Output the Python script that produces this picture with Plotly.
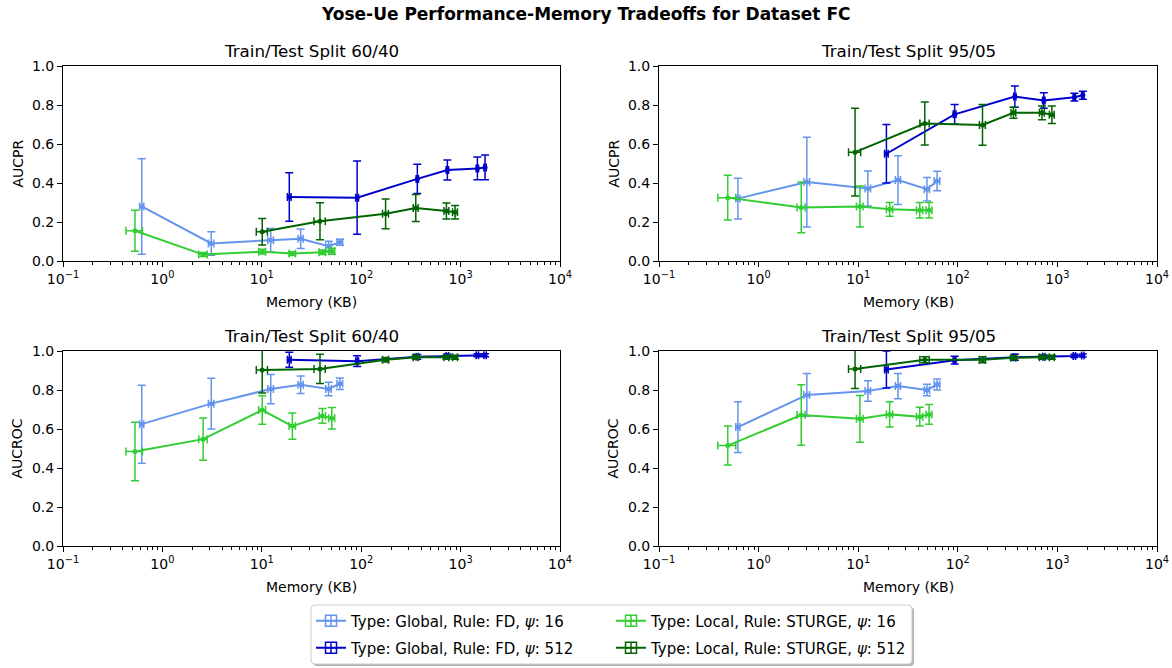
import plotly.graph_objects as go

# ---- series definitions -------------------------------------------------
SERIES = ["g16", "g512", "l16", "l512"]
LABELS = {
    "g16": "Type: Global, Rule: FD, <i>ψ</i>: 16",
    "g512": "Type: Global, Rule: FD, <i>ψ</i>: 512",
    "l16": "Type: Local, Rule: STURGE, <i>ψ</i>: 16",
    "l512": "Type: Local, Rule: STURGE, <i>ψ</i>: 512",
}
COLORS = {"g16": "#6495ED", "g512": "#0000CD", "l16": "#32CD32", "l512": "#006400"}

# ---- memory footprint (KB), mean and spread, per split ------------------
mem_6040 = {
    "g16": [0.62, 3.1, 12.3, 24.6, 47, 61],
    "g512": [18.9, 91, 367, 736, 1475, 1762],
    "l16": [0.53, 2.57, 10.1, 20.3, 40.7, 50.6],
    "l512": [10.1, 38.5, 176, 354, 720, 880],
}
mem_err_6040 = {
    "g16": [0.03, 0.2, 0.8, 1.5, 3, 4],
    "g512": [0.8, 3, 10, 20, 40, 50],
    "l16": [0.1, 0.25, 0.8, 1.5, 3, 3.5],
    "l512": [1.3, 5, 12, 20, 40, 50],
}
mem_9505 = {
    "g16": [0.62, 3.05, 12.5, 25.1, 49, 62],
    "g512": [19.2, 93, 374, 730, 1480, 1800],
    "l16": [0.49, 2.68, 10.4, 20.7, 41.5, 51.5],
    "l512": [9.3, 46.6, 177, 362, 700, 880],
}
mem_err_9505 = {
    "g16": [0.03, 0.2, 0.8, 1.5, 3, 4],
    "g512": [0.8, 3, 10, 20, 40, 50],
    "l16": [0.1, 0.25, 0.8, 1.5, 3, 3.5],
    "l512": [1.3, 5, 12, 20, 40, 50],
}

# ---- AUCPR, split 60/40 -------------------------------------------------
aucpr_6040 = {
    "g16": [0.28, 0.09, 0.107, 0.114, 0.076, 0.096],
    "g512": [0.328, 0.325, 0.421, 0.467, 0.475, 0.48],
    "l16": [0.155, 0.033, 0.048, 0.038, 0.045, 0.05],
    "l512": [0.150, 0.204, 0.242, 0.272, 0.257, 0.25],
}
aucpr_err_6040 = {
    "g16": [0.245, 0.06, 0.06, 0.05, 0.025, 0.015],
    "g512": [0.124, 0.188, 0.075, 0.051, 0.058, 0.063],
    "l16": [0.105, 0.01, 0.012, 0.01, 0.012, 0.015],
    "l512": [0.068, 0.095, 0.076, 0.069, 0.041, 0.035],
}

# ---- AUCPR, split 95/05 -------------------------------------------------
aucpr_9505 = {
    "g16": [0.32, 0.405, 0.372, 0.415, 0.368, 0.41],
    "g512": [0.55, 0.752, 0.843, 0.823, 0.84, 0.85],
    "l16": [0.325, 0.275, 0.28, 0.265, 0.26, 0.26],
    "l512": [0.558, 0.705, 0.698, 0.76, 0.76, 0.75],
}
aucpr_err_9505 = {
    "g16": [0.105, 0.23, 0.09, 0.125, 0.06, 0.05],
    "g512": [0.15, 0.05, 0.055, 0.04, 0.02, 0.02],
    "l16": [0.115, 0.13, 0.105, 0.035, 0.04, 0.04],
    "l512": [0.225, 0.11, 0.105, 0.028, 0.035, 0.045],
}

# ---- AUCROC, split 60/40 ------------------------------------------------
aucroc_6040 = {
    "g16": [0.625, 0.73, 0.805, 0.827, 0.805, 0.832],
    "g512": [0.955, 0.948, 0.97, 0.975, 0.978, 0.978],
    "l16": [0.485, 0.548, 0.697, 0.615, 0.667, 0.655],
    "l512": [0.902, 0.908, 0.955, 0.968, 0.968, 0.968],
}
aucroc_err_6040 = {
    "g16": [0.2, 0.13, 0.075, 0.045, 0.035, 0.03],
    "g512": [0.038, 0.028, 0.012, 0.01, 0.008, 0.008],
    "l16": [0.15, 0.108, 0.073, 0.067, 0.038, 0.055],
    "l512": [0.117, 0.075, 0.012, 0.01, 0.01, 0.01],
}

# ---- AUCROC, split 95/05 ------------------------------------------------
aucroc_9505 = {
    "g16": [0.61, 0.775, 0.795, 0.82, 0.8, 0.828],
    "g512": [0.905, 0.953, 0.968, 0.97, 0.975, 0.977],
    "l16": [0.515, 0.672, 0.652, 0.675, 0.663, 0.675],
    "l512": [0.908, 0.955, 0.955, 0.965, 0.968, 0.968],
}
aucroc_err_9505 = {
    "g16": [0.13, 0.11, 0.053, 0.065, 0.03, 0.028],
    "g512": [0.095, 0.02, 0.015, 0.01, 0.008, 0.008],
    "l16": [0.1, 0.155, 0.12, 0.065, 0.048, 0.05],
    "l512": [0.1, 0.015, 0.015, 0.01, 0.01, 0.01],
}

SUBPLOT_TITLES = ["Train/Test Split 60/40", "Train/Test Split 95/05",
                  "Train/Test Split 60/40", "Train/Test Split 95/05"]
Y_TITLES = ["AUCPR", "AUCPR", "AUCROC", "AUCROC"]
X_TITLE = "Memory (KB)"
SUPTITLE = "Yose-Ue Performance-Memory Tradeoffs for Dataset FC"

X_TICKS = [0.1, 1, 10, 100, 1000, 10000]
X_TICKTEXT = ["10<sup>−1</sup>", "10<sup>0</sup>", "10<sup>1</sup>",
              "10<sup>2</sup>", "10<sup>3</sup>", "10<sup>4</sup>"]

panels = [
    (mem_6040, mem_err_6040, aucpr_6040, aucpr_err_6040),
    (mem_9505, mem_err_9505, aucpr_9505, aucpr_err_9505),
    (mem_6040, mem_err_6040, aucroc_6040, aucroc_err_6040),
    (mem_9505, mem_err_9505, aucroc_9505, aucroc_err_9505),
]

# ---- page geometry (pixels) ---------------------------------------------
W, H = 1172, 668
FONT = "DejaVu Sans"
TXT = 14
px = lambda x: x / W
py = lambda y: 1 - y / H

col_px = [(63, 560), (659, 1157)]
row_px = [(66, 261), (351, 546)]

fig = go.Figure()

legend_names = ["legend", "legend2", "legend3", "legend4"]

for i, (mem, mem_err, val, val_err) in enumerate(panels):
    sfx = "" if i == 0 else str(i + 1)
    for s in SERIES:
        fig.add_trace(go.Scatter(
            x=mem[s], y=val[s],
            error_x=dict(type="data", array=mem_err[s], visible=True,
                         color=COLORS[s], thickness=1.5, width=4),
            error_y=dict(type="data", array=val_err[s], visible=True,
                         color=COLORS[s], thickness=1.5, width=4),
            mode="lines+markers",
            line=dict(color=COLORS[s], width=2),
            marker=dict(color=COLORS[s], size=5),
            name=LABELS[s],
            showlegend=False,
            xaxis="x" + sfx, yaxis="y" + sfx,
        ))

# legend entries drawn with an errorbar-like glyph
for k, s in enumerate(SERIES):
    fig.add_trace(go.Scatter(
        x=[None], y=[None], mode="lines+markers",
        line=dict(color=COLORS[s], width=2),
        marker=dict(color=COLORS[s], symbol="square-cross-open", size=11,
                    line=dict(color=COLORS[s], width=1.5)),
        name=LABELS[s], showlegend=True, legend=legend_names[k],
        xaxis="x", yaxis="y",
    ))

minor_vals = [m * 10 ** e for e in range(-1, 4) for m in range(2, 10)]

layout = dict(
    width=W, height=H,
    margin=dict(l=0, r=0, t=0, b=0),
    paper_bgcolor="white", plot_bgcolor="white",
    font=dict(family=FONT, size=TXT, color="black"),
    annotations=[], shapes=[],
)

for i in range(4):
    r, c = divmod(i, 2)
    sfx = "" if i == 0 else str(i + 1)
    x0, x1 = col_px[c]
    y0, y1 = row_px[r]
    layout["xaxis" + sfx] = dict(
        domain=[px(x0), px(x1)], anchor="y" + sfx, type="log", range=[-1, 4],
        automargin=False,
        tickmode="array", tickvals=X_TICKS, ticktext=X_TICKTEXT,
        ticks="outside", ticklen=5, tickwidth=1, tickcolor="black",
        showline=True, linecolor="black", linewidth=1, mirror=True,
        showgrid=False, zeroline=False,
        tickfont=dict(family=FONT, size=TXT),
        minor=dict(tickmode="array", tickvals=minor_vals, ticks="outside",
                   ticklen=2.5, tickwidth=0.8, tickcolor="black", showgrid=False),
    )
    layout["yaxis" + sfx] = dict(
        domain=[py(y1), py(y0)], anchor="x" + sfx, range=[0, 1],
        automargin=False,
        tickmode="array", tickvals=[0, 0.2, 0.4, 0.6, 0.8, 1.0],
        ticktext=["0.0", "0.2", "0.4", "0.6", "0.8", "1.0"],
        ticks="outside", ticklen=5, tickwidth=1, tickcolor="black",
        showline=True, linecolor="black", linewidth=1, mirror=True,
        showgrid=False, zeroline=False,
        tickfont=dict(family=FONT, size=TXT),
    )
    cx = (x0 + x1) / 2
    layout["annotations"].append(dict(
        text=SUBPLOT_TITLES[i], x=px(cx), y=py(y0 - 15), xref="paper", yref="paper",
        showarrow=False, xanchor="center", yanchor="middle",
        font=dict(family=FONT, size=16.7)))
    layout["annotations"].append(dict(
        text=X_TITLE, x=px(cx), y=py(y1 + 41), xref="paper", yref="paper",
        showarrow=False, xanchor="center", yanchor="middle",
        font=dict(family=FONT, size=TXT)))
    layout["annotations"].append(dict(
        text=Y_TITLES[i], x=px(x0 - 46), y=py((y0 + y1) / 2), xref="paper", yref="paper",
        showarrow=False, xanchor="center", yanchor="middle", textangle=-90,
        font=dict(family=FONT, size=TXT)))

layout["annotations"].append(dict(
    text="<b>" + SUPTITLE + "</b>", x=0.5, y=py(14), xref="paper", yref="paper",
    showarrow=False, xanchor="center", yanchor="middle",
    font=dict(family=FONT, size=17)))

# legend frame with a soft drop shadow
lx0, ly0, lx1, ly1 = 311, 605, 912, 664
rad = 4


def rounded(xa, ya, xb, yb, rr):
    return (f"M {px(xa + rr)},{py(ya)} L {px(xb - rr)},{py(ya)} "
            f"Q {px(xb)},{py(ya)} {px(xb)},{py(ya + rr)} "
            f"L {px(xb)},{py(yb - rr)} Q {px(xb)},{py(yb)} {px(xb - rr)},{py(yb)} "
            f"L {px(xa + rr)},{py(yb)} Q {px(xa)},{py(yb)} {px(xa)},{py(yb - rr)} "
            f"L {px(xa)},{py(ya + rr)} Q {px(xa)},{py(ya)} {px(xa + rr)},{py(ya)} Z")


layout["shapes"].append(dict(type="path", xref="paper", yref="paper",
                             path=rounded(lx0 + 2, ly0 + 2, lx1 + 2, ly1 + 2, rad),
                             fillcolor="rgba(0,0,0,0.3)", line=dict(width=0),
                             layer="above"))
layout["shapes"].append(dict(type="path", xref="paper", yref="paper",
                             path=rounded(lx0, ly0, lx1, ly1, rad),
                             fillcolor="white", line=dict(color="#cccccc", width=1),
                             layer="above"))

legend_pos = [(311, 621), (311, 648), (611, 621), (611, 648)]
for name, (lx, ly) in zip(legend_names, legend_pos):
    layout[name] = dict(
        x=px(lx), y=py(ly), xanchor="left", yanchor="middle",
        bgcolor="rgba(0,0,0,0)", borderwidth=0,
        font=dict(family=FONT, size=15, color="black"),
        itemwidth=30,
    )

fig.update_layout(**layout)
fig.write_html("out.html")
